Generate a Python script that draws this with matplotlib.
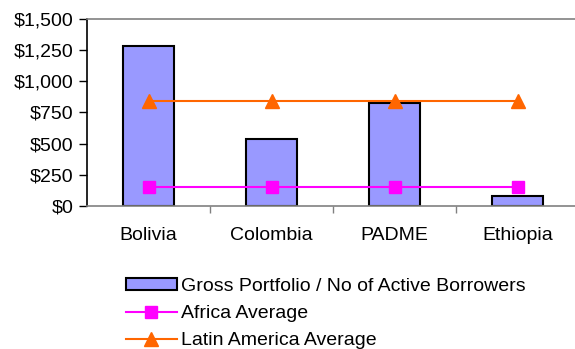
import matplotlib.pyplot as plt
from matplotlib.ticker import FuncFormatter, FixedLocator

plt.rcParams['font.family'] = ['Liberation Sans', 'DejaVu Sans']

countries = ['Bolivia', 'Colombia', 'PADME', 'Ethiopia']
portfolio_per_borrower = [1283, 535, 824, 83]
africa_avg = [152, 152, 152, 152]
latam_avg = [840, 840, 840, 840]

fig = plt.figure(figsize=(5.75, 3.49), dpi=100)
ax = fig.add_axes([87 / 575, 143 / 349, 492 / 575, 187 / 349])

x = list(range(len(countries)))
bars = ax.bar(x, portfolio_per_borrower, width=0.41, color='#9999FF', edgecolor='black',
              linewidth=1.5, label='Gross Portfolio / No of Active Borrowers', zorder=2)
africa, = ax.plot(x, africa_avg, color='#FF00FF', marker='s', markersize=9, linewidth=1.5,
                  label='Africa Average', zorder=3)
latam, = ax.plot(x, latam_avg, color='#FF6600', marker='^', markersize=10, linewidth=1.5,
                 label='Latin America Average', zorder=3)

ax.set_xlim(-0.5, len(countries) - 0.5)
ax.set_ylim(0, 1500)
ax.set_yticks(range(0, 1501, 250))
ax.yaxis.set_major_formatter(FuncFormatter(lambda v, _: '${:,.0f}'.format(v)))

# category labels centred, tick marks on the boundaries between categories
ax.set_xticks(x)
ax.set_xticklabels(countries, fontsize=14)
ax.xaxis.set_minor_locator(FixedLocator([0.5, 1.5, 2.5]))
ax.tick_params(axis='x', which='major', length=0, pad=15)
ax.tick_params(axis='x', which='minor', length=5, width=1, color='#808080')
ax.tick_params(axis='y', length=6, width=1, labelsize=14, pad=4)

ax.spines['left'].set_color('black')
ax.spines['bottom'].set_color('#808080')
ax.spines['top'].set_color('#808080')
ax.spines['right'].set_visible(False)
for s in ax.spines.values():
    s.set_linewidth(1.2)

ax.legend(handles=[bars, africa, latam],
          loc='upper left', bbox_to_anchor=(126 / 575, 1 - 278 / 349),
          bbox_transform=fig.transFigure, frameon=False, fontsize=14,
          handlelength=2.6, handleheight=0.6, handletextpad=0.25,
          labelspacing=0.52, borderpad=0, borderaxespad=0)

fig.savefig('out.png', dpi=100)
